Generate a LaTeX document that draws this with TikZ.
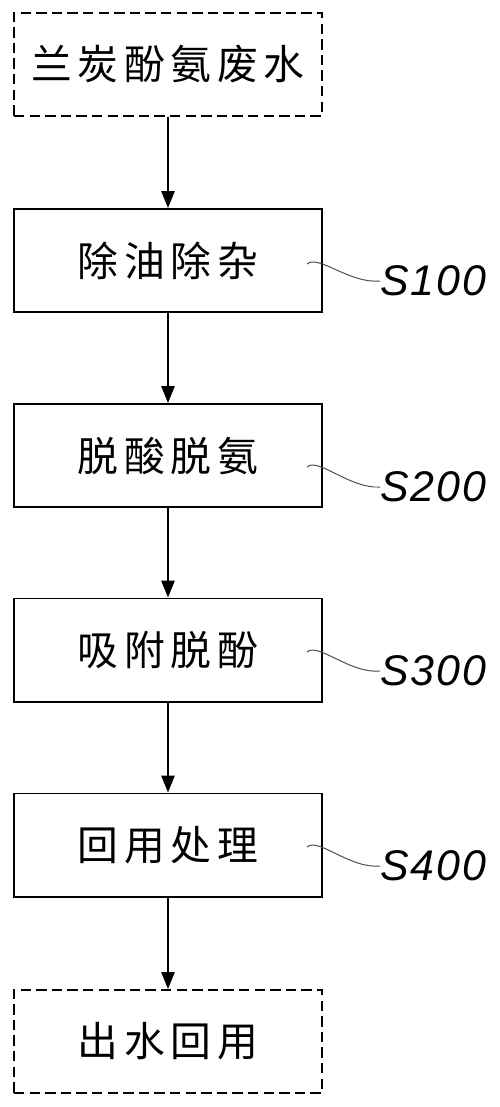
\documentclass[tikz,border=0pt]{standalone}
\usepackage{fontspec}
\usepackage{tikz}
\usetikzlibrary{arrows.meta}

\newfontfamily\cjkfont[LetterSpace=14]{Noto Sans CJK SC}
\newfontfamily\lblfont[LetterSpace=5]{Liberation Sans}

\begin{document}
\begin{tikzpicture}[
  x=0.025cm, y=-0.025cm,
  stepbox/.style={rectangle, draw, line width=1.4pt, minimum width=7.7cm,
    minimum height=2.575cm, inner sep=0pt,
    font=\cjkfont\fontsize{29}{32}\selectfont},
  endbox/.style={stepbox, dashed, dash pattern=on 0.26cm off 0.13cm},
  flow/.style={line width=1.2pt, -{Triangle[length=4.2mm, width=3.3mm]}},
  wave/.style={line width=0.7pt, black!70},
  steplabel/.style={anchor=west, inner sep=0pt,
    font=\lblfont\itshape\fontsize{30.5}{32}\selectfont}
]
  \useasboundingbox (0,0) rectangle (500,1107);

  % Boxes
  \node[endbox]   (raw)     at (168,64.5)  {兰炭酚氨废水};
  \node[stepbox]  (deoil)   at (168,260.5) {除油除杂};
  \node[stepbox]  (deacid)  at (168,455.5) {脱酸脱氨};
  \node[stepbox]  (adsorb)  at (168,650)   {吸附脱酚};
  \node[stepbox]  (reuse)   at (168,845)   {回用处理};
  \node[endbox]   (outlet)  at (168,1041.5) {出水回用};

  % Flow arrows
  \draw[flow] (raw) -- (deoil);
  \draw[flow] (deoil) -- (deacid);
  \draw[flow] (deacid) -- (adsorb);
  \draw[flow] (adsorb) -- (reuse);
  \draw[flow] (reuse) -- (outlet);

  % Step labels
  \node[steplabel] (s1) at (380,281) {S100};
  \node[steplabel] (s2) at (380,487) {S200};
  \node[steplabel] (s3) at (380,671) {S300};
  \node[steplabel] (s4) at (380,866) {S400};

  \coordinate (w1) at (307,264);
  \coordinate (w2) at (307,467);
  \coordinate (w3) at (307,652);
  \coordinate (w4) at (307,847);

  \draw[wave] (w1) .. controls (318,254) and (350,284) .. (s1.west);
  \draw[wave] (w2) .. controls (318,457) and (350,489) .. (s2.west);
  \draw[wave] (w3) .. controls (318,642) and (350,674) .. (s3.west);
  \draw[wave] (w4) .. controls (318,837) and (350,869) .. (s4.west);

\end{tikzpicture}
\end{document}
